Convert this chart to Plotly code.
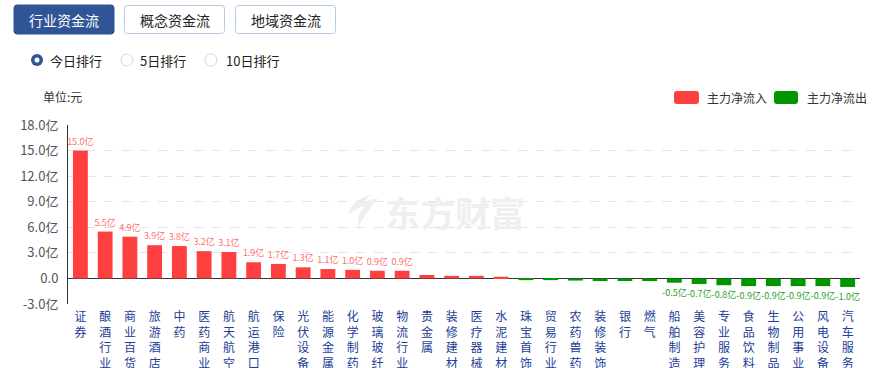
import plotly.graph_objects as go

categories = ["证券", "酿酒行业", "商业百货", "旅游酒店", "中药", "医药商业", "航天航空", "航运港口",
              "保险", "光伏设备", "能源金属", "化学制药", "玻璃玻纤", "物流行业", "贵金属", "装修建材",
              "医疗器械", "水泥建材", "珠宝首饰", "贸易行业", "农药兽药", "装修装饰", "银行", "燃气",
              "船舶制造", "美容护理", "专业服务", "食品饮料", "生物制品", "公用事业", "风电设备", "汽车服务"]
values = [15.0, 5.5, 4.9, 3.9, 3.8, 3.2, 3.1, 1.9, 1.7, 1.3, 1.1, 1.0, 0.9, 0.9, 0.4, 0.3,
          0.3, 0.2, -0.2, -0.2, -0.25, -0.3, -0.3, -0.3, -0.5, -0.65, -0.8, -0.9, -0.9, -0.9, -0.9, -1.0]
labels = ["15.0亿", "5.5亿", "4.9亿", "3.9亿", "3.8亿", "3.2亿", "3.1亿", "1.9亿", "1.7亿", "1.3亿",
          "1.1亿", "1.0亿", "0.9亿", "0.9亿", "", "", "", "", "", "", "", "", "", "",
          "-0.5亿", "-0.7亿", "-0.8亿", "-0.9亿", "-0.9亿", "-0.9亿", "-0.9亿", "-1.0亿"]
y_tickvals = [18, 15, 12, 9, 6, 3, 0, -3]
y_ticktext = ["18.0亿", "15.0亿", "12.0亿", "9.0亿", "6.0亿", "3.0亿", "0.0", "-3.0亿"]
tabs = ["行业资金流", "概念资金流", "地域资金流"]
ranks = ["今日排行", "5日排行", "10日排行"]
legend_names = ["主力净流入", "主力净流出"]

RED = "#ff4040"
GREEN = "#009600"
FONT = "Noto Sans CJK SC, Microsoft YaHei, sans-serif"

W, H = 879, 368
L, R, T, B = 68, 19, 125, 64
PW, PH = W - L - R, H - T - B


def px(x):
    return (x - L) / PW


def py(y):
    return (H - B - y) / PH


def rrect(x0, y0, x1, y1, r):
    return (f"M {px(x0 + r)},{py(y0)} L {px(x1 - r)},{py(y0)} Q {px(x1)},{py(y0)} {px(x1)},{py(y0 + r)} "
            f"L {px(x1)},{py(y1 - r)} Q {px(x1)},{py(y1)} {px(x1 - r)},{py(y1)} "
            f"L {px(x0 + r)},{py(y1)} Q {px(x0)},{py(y1)} {px(x0)},{py(y1 - r)} "
            f"L {px(x0)},{py(y0 + r)} Q {px(x0)},{py(y0)} {px(x0 + r)},{py(y0)} Z")


colors = [RED if v >= 0 else GREEN for v in values]
text_colors = ["#ff6f6f" if v >= 0 else "#2a9e2a" for v in values]
ticktext = ["<br>".join(list(c)) for c in categories]

fig = go.Figure()
fig.add_trace(go.Bar(
    x=categories, y=values, marker=dict(color=colors, line=dict(width=0)),
    width=0.6, text=labels, textposition="outside", cliponaxis=False, constraintext="none",
    textfont=dict(size=9, color=text_colors, family=FONT),
    hoverinfo="x+y", showlegend=False,
))

shapes = []
annotations = []

# watermark
annotations.append(dict(xref="paper", yref="paper", x=px(383), y=py(211), xanchor="left", yanchor="middle",
                        text="<b>东方财富</b>", showarrow=False,
                        font=dict(size=35, color="#efefef", family=FONT)))
logo = (f"M {px(372)},{py(194)} Q {px(352)},{py(200)} {px(348)},{py(214)} Q {px(358)},{py(208)} {px(364)},{py(206)} "
        f"Q {px(356)},{py(216)} {px(358)},{py(228)} Q {px(366)},{py(212)} {px(378)},{py(198)} "
        f"Q {px(368)},{py(200)} {px(364)},{py(202)} Q {px(368)},{py(197)} {px(372)},{py(194)} Z")
shapes.append(dict(type="path", xref="paper", yref="paper", path=logo, fillcolor="#efefef",
                   line=dict(width=0), layer="below"))

# tabs
tab_x = [(14, 114), (124, 225), (235, 336)]
for i, (name, (a, b)) in enumerate(zip(tabs, tab_x)):
    if i == 0:
        shapes.append(dict(type="path", xref="paper", yref="paper", path=rrect(a, 5, b, 34, 3),
                           fillcolor="#2f5597", line=dict(color="#2f5597", width=1), layer="above"))
        col = "#ffffff"
    else:
        shapes.append(dict(type="path", xref="paper", yref="paper", path=rrect(a + 0.5, 5.5, b - 0.5, 33.5, 3),
                           fillcolor="#ffffff", line=dict(color="#b3cbe6", width=1), layer="above"))
        col = "#222222"
    annotations.append(dict(xref="paper", yref="paper", x=px((a + b) / 2), y=py(19.5), xanchor="center",
                            yanchor="middle", text=name, showarrow=False,
                            font=dict(size=14, color=col, family=FONT)))

# radios
radio_x = [(37, 48), (127, 138), (211, 224)]
for i, (name, (cx, tx)) in enumerate(zip(ranks, radio_x)):
    if i == 0:
        shapes.append(dict(type="circle", xref="paper", yref="paper", x0=px(cx - 6), x1=px(cx + 6),
                           y0=py(60 + 6), y1=py(60 - 6), fillcolor="#2f5597", line=dict(width=0)))
        shapes.append(dict(type="circle", xref="paper", yref="paper", x0=px(cx - 2.5), x1=px(cx + 2.5),
                           y0=py(60 + 2.5), y1=py(60 - 2.5), fillcolor="#ffffff", line=dict(width=0)))
    else:
        shapes.append(dict(type="circle", xref="paper", yref="paper", x0=px(cx - 6), x1=px(cx + 6),
                           y0=py(60 + 6), y1=py(60 - 6), fillcolor="#ffffff",
                           line=dict(color="#c9d8ea", width=1)))
    annotations.append(dict(xref="paper", yref="paper", x=px(tx), y=py(60), xanchor="left", yanchor="middle",
                            text=name, showarrow=False, font=dict(size=13, color="#222222", family=FONT)))

# unit
annotations.append(dict(xref="paper", yref="paper", x=px(41), y=py(97), xanchor="left", yanchor="middle",
                        text="单位:元", showarrow=False, font=dict(size=12, color="#333333", family=FONT)))

# legend
leg = [(674, 699, 705, RED), (774, 798, 805, GREEN)]
for name, (a, b, tx, col) in zip(legend_names, leg):
    shapes.append(dict(type="path", xref="paper", yref="paper", path=rrect(a, 91, b, 104, 3),
                       fillcolor=col, line=dict(width=0)))
    annotations.append(dict(xref="paper", yref="paper", x=px(tx), y=py(97.5), xanchor="left", yanchor="middle",
                            text=name, showarrow=False, font=dict(size=12, color="#333333", family=FONT)))

fig.update_layout(
    width=W, height=H, margin=dict(l=L, r=R, t=T, b=B, autoexpand=False),
    paper_bgcolor="#ffffff", plot_bgcolor="#ffffff",
    font=dict(family=FONT),
    shapes=shapes, annotations=annotations,
    xaxis=dict(tickmode="array", tickvals=categories, ticktext=ticktext, tickangle=0,
               tickfont=dict(size=12, color="#233d98", family=FONT), showgrid=False,
               showline=False, ticks="", ticklabelstandoff=4,
               range=[-0.5, len(categories) - 0.5], fixedrange=True),
    yaxis=dict(range=[-3, 18], tickvals=y_tickvals, ticktext=y_ticktext,
               tickfont=dict(size=13, color="#555555", family=FONT),
               showgrid=True, gridcolor="#e3e3e3", griddash="dash", gridwidth=1,
               zeroline=True, zerolinecolor="#333333", zerolinewidth=1,
               showline=True, linecolor="#333333", linewidth=1, ticks="", ticklabelstandoff=6,
               fixedrange=True),
)

fig.write_html("out.html", config={"displayModeBar": False},
               post_script="document.body.style.margin='0';document.body.style.padding='0';")
